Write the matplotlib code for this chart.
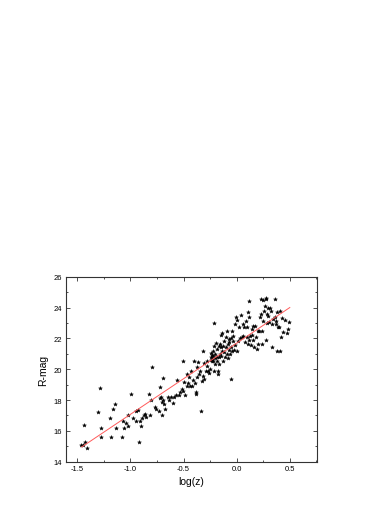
import matplotlib
matplotlib.use("Agg")
import matplotlib.pyplot as plt
import numpy as np
from matplotlib.ticker import MultipleLocator

plt.rcParams['font.family'] = ['Liberation Sans', 'DejaVu Sans']

log_z = [-1.469, -1.45, -1.44, -1.428, -1.406, -1.31, -1.285, -1.278, -1.278, -1.19,
         -1.183, -1.16, -1.15, -1.136, -1.08, -1.067, -1.057, -1.045, -1.026, -1.02,
         -0.994, -0.972, -0.947, -0.944, -0.932, -0.922, -0.907, -0.9, -0.888, -0.869,
         -0.86, -0.85, -0.828, -0.819, -0.806, -0.8, -0.768, -0.759, -0.734, -0.724,
         -0.718, -0.712, -0.706, -0.7, -0.696, -0.69, -0.68, -0.674, -0.649, -0.633,
         -0.618, -0.602, -0.59, -0.574, -0.558, -0.545, -0.53, -0.517, -0.508, -0.502,
         -0.492, -0.483, -0.47, -0.464, -0.455, -0.445, -0.439, -0.426, -0.42, -0.41,
         -0.398, -0.395, -0.385, -0.382, -0.376, -0.37, -0.363, -0.357, -0.35, -0.335,
         -0.329, -0.32, -0.316, -0.307, -0.304, -0.291, -0.282, -0.275, -0.27, -0.26,
         -0.25, -0.244, -0.24, -0.238, -0.235, -0.231, -0.228, -0.225, -0.222, -0.219,
         -0.216, -0.213, -0.21, -0.206, -0.203, -0.2, -0.194, -0.188, -0.184, -0.181,
         -0.178, -0.172, -0.169, -0.166, -0.162, -0.159, -0.156, -0.15, -0.147, -0.144,
         -0.14, -0.137, -0.131, -0.125, -0.118, -0.115, -0.109, -0.103, -0.1, -0.093,
         -0.09, -0.084, -0.081, -0.075, -0.071, -0.068, -0.062, -0.056, -0.053, -0.05,
         -0.046, -0.04, -0.037, -0.031, -0.024, -0.018, -0.012, -0.009, 0.0, 0.007,
         0.016, 0.023, 0.032, 0.038, 0.048, 0.057, 0.064, 0.073, 0.08, 0.089,
         0.095, 0.101, 0.104, 0.111, 0.114, 0.117, 0.12, 0.126, 0.133, 0.142,
         0.148, 0.152, 0.158, 0.164, 0.174, 0.18, 0.19, 0.196, 0.205, 0.214,
         0.22, 0.227, 0.233, 0.236, 0.242, 0.246, 0.252, 0.261, 0.267, 0.274,
         0.277, 0.28, 0.283, 0.289, 0.296, 0.299, 0.305, 0.315, 0.324, 0.33,
         0.337, 0.346, 0.356, 0.362, 0.368, 0.371, 0.377, 0.384, 0.39, 0.396,
         0.403, 0.409, 0.415, 0.425, 0.44, 0.456, 0.472, 0.487, 0.494]

r_mag = [15.08, 15.08, 16.4, 15.3, 14.9, 17.22, 18.8, 16.2, 15.58, 16.81,
         15.58, 17.42, 17.72, 16.2, 15.58, 16.62, 16.2, 16.5, 17.0, 16.3,
         18.41, 16.81, 17.3, 16.62, 17.35, 15.3, 16.62, 16.3, 16.81, 17.0,
         17.11, 16.9, 18.41, 17.0, 18.0, 20.12, 17.52, 17.42, 17.3, 18.82,
         18.1, 18.2, 17.0, 17.9, 19.4, 18.03, 17.74, 17.42, 18.2, 18.0,
         18.2, 17.8, 18.2, 18.32, 19.27, 18.32, 18.5, 18.71, 20.51, 18.6,
         19.15, 18.32, 18.9, 19.69, 19.1, 19.5, 18.9, 19.9, 18.9, 19.3,
         20.51, 19.1, 18.5, 18.39, 19.47, 20.12, 20.44, 19.69, 19.9, 17.3,
         19.25, 21.16, 19.58, 19.36, 20.38, 19.9, 20.23, 20.55, 19.86, 19.73,
         20.01, 20.59, 21.03, 20.77, 20.66, 20.92, 20.51, 20.88, 21.2, 20.55,
         23.0, 19.9, 21.52, 20.71, 20.98, 20.33, 21.68, 20.51, 21.3, 20.77,
         19.9, 19.69, 21.52, 20.33, 20.77, 21.63, 20.98, 21.41, 20.88, 22.24,
         21.2, 22.33, 20.55, 21.52, 21.09, 21.85, 20.77, 22.11, 21.41, 22.5,
         20.98, 21.63, 20.71, 21.96, 21.24, 21.74, 20.98, 19.38, 22.02, 21.46,
         22.5, 21.16, 21.81, 22.17, 21.24, 22.93, 21.59, 23.41, 21.16, 23.19,
         21.81, 22.76, 22.02, 23.51, 22.11, 22.93, 22.17, 22.71, 21.74, 23.1,
         22.07, 22.76, 21.63, 23.69, 21.89, 23.36, 24.4, 22.17, 21.57, 22.61,
         22.24, 22.81, 21.89, 21.41, 22.81, 22.07, 21.3, 22.5, 21.63, 22.5,
         23.36, 24.55, 23.58, 22.5, 21.63, 23.15, 24.49, 23.79, 24.12, 24.55,
         21.89, 24.62, 23.58, 22.97, 24.0, 23.47, 23.04, 24.0, 23.79, 22.93,
         21.41, 23.26, 23.36, 24.55, 22.93, 23.1, 23.69, 21.2, 22.71, 22.71,
         21.2, 23.79, 22.11, 23.32, 22.39, 23.19, 22.33, 22.61, 23.04]

fit_x = [-1.46, 0.5]
fit_y = [14.95, 24.0]

fig = plt.figure(figsize=(3.91, 5.06), dpi=100)
ax = fig.add_axes([0.168, 0.0856, 0.643, 0.3656])

ax.plot(log_z, r_mag, linestyle='none', marker='*', markersize=2.9,
        color='black', markeredgewidth=0.3)
ax.plot(fit_x, fit_y, color='#ff5a5a', linewidth=0.7)

ax.set_xlim(-1.61, 0.757)
ax.set_ylim(14, 26)
ax.xaxis.set_major_locator(MultipleLocator(0.5))
ax.xaxis.set_minor_locator(MultipleLocator(0.25))
ax.yaxis.set_major_locator(MultipleLocator(2))
ax.yaxis.set_minor_locator(MultipleLocator(1))
ax.tick_params(which='both', direction='in', top=True, right=True,
               labelsize=5.5, width=0.6, color='#333333', pad=2.5)
ax.tick_params(which='major', length=3)
ax.tick_params(which='minor', length=1.6)
ax.set_xticklabels([f'{v:.1f}' for v in ax.get_xticks()])
for s in ax.spines.values():
    s.set_linewidth(0.8)
    s.set_color('#333333')

ax.set_xlabel('log(z)', fontsize=7.5, labelpad=3)
ax.set_ylabel('R-mag', fontsize=7.5, labelpad=4)

fig.savefig('out.png', dpi=100)
